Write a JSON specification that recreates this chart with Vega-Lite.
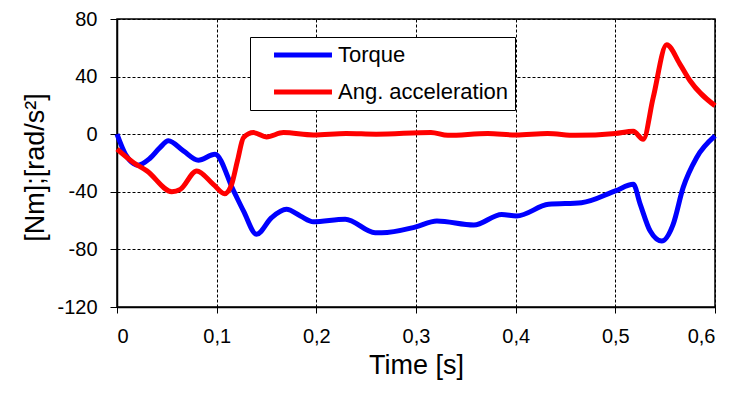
{
  "$schema": "https://vega.github.io/schema/vega-lite/v6.json",
  "width": 598,
  "height": 288,
  "autosize": "none",
  "padding": {"left": 117, "top": 19, "right": 35, "bottom": 94},
  "background": "white",
  "config": {
    "font": "Liberation Sans",
    "view": {"stroke": "black", "strokeWidth": 1.5}
  },
  "data": {
    "values": [
      {"series": "Torque", "t": 0, "v": 0},
      {"series": "Torque", "t": 0.0084, "v": -13.9},
      {"series": "Torque", "t": 0.0167, "v": -20.4},
      {"series": "Torque", "t": 0.021, "v": -21.5},
      {"series": "Torque", "t": 0.0331, "v": -16.7},
      {"series": "Torque", "t": 0.0431, "v": -9.3},
      {"series": "Torque", "t": 0.0515, "v": -4.6},
      {"series": "Torque", "t": 0.0666, "v": -11.6},
      {"series": "Torque", "t": 0.0816, "v": -18.1},
      {"series": "Torque", "t": 0.0983, "v": -13.9},
      {"series": "Torque", "t": 0.117, "v": -39.4},
      {"series": "Torque", "t": 0.127, "v": -53.4},
      {"series": "Torque", "t": 0.14, "v": -69.5},
      {"series": "Torque", "t": 0.155, "v": -58},
      {"series": "Torque", "t": 0.17, "v": -52.2},
      {"series": "Torque", "t": 0.184, "v": -56.8},
      {"series": "Torque", "t": 0.197, "v": -60.8},
      {"series": "Torque", "t": 0.229, "v": -59},
      {"series": "Torque", "t": 0.259, "v": -68.4},
      {"series": "Torque", "t": 0.2656, "v": -68.4},
      {"series": "Torque", "t": 0.299, "v": -64.5},
      {"series": "Torque", "t": 0.321, "v": -60.3},
      {"series": "Torque", "t": 0.358, "v": -63.1},
      {"series": "Torque", "t": 0.386, "v": -55.7},
      {"series": "Torque", "t": 0.401, "v": -56.8},
      {"series": "Torque", "t": 0.433, "v": -48.7},
      {"series": "Torque", "t": 0.466, "v": -47.6},
      {"series": "Torque", "t": 0.5, "v": -39.4},
      {"series": "Torque", "t": 0.518, "v": -34.8},
      {"series": "Torque", "t": 0.525, "v": -48.7},
      {"series": "Torque", "t": 0.535, "v": -67.3},
      {"series": "Torque", "t": 0.5465, "v": -74.2},
      {"series": "Torque", "t": 0.558, "v": -62.6},
      {"series": "Torque", "t": 0.568, "v": -37.1},
      {"series": "Torque", "t": 0.5815, "v": -16.3},
      {"series": "Torque", "t": 0.6, "v": -1.2},
      {"series": "Ang. acceleration", "t": 0, "v": -10.4},
      {"series": "Ang. acceleration", "t": 0.0167, "v": -19.8},
      {"series": "Ang. acceleration", "t": 0.03, "v": -25.5},
      {"series": "Ang. acceleration", "t": 0.055, "v": -39.9},
      {"series": "Ang. acceleration", "t": 0.0635, "v": -38.3},
      {"series": "Ang. acceleration", "t": 0.08, "v": -25.5},
      {"series": "Ang. acceleration", "t": 0.0966, "v": -34.8},
      {"series": "Ang. acceleration", "t": 0.108, "v": -41.3},
      {"series": "Ang. acceleration", "t": 0.115, "v": -34.8},
      {"series": "Ang. acceleration", "t": 0.121, "v": -18},
      {"series": "Ang. acceleration", "t": 0.127, "v": -2.3},
      {"series": "Ang. acceleration", "t": 0.137, "v": 1.1},
      {"series": "Ang. acceleration", "t": 0.15, "v": -1.9},
      {"series": "Ang. acceleration", "t": 0.167, "v": 1.1},
      {"series": "Ang. acceleration", "t": 0.197, "v": -0.5},
      {"series": "Ang. acceleration", "t": 0.23, "v": 0.5},
      {"series": "Ang. acceleration", "t": 0.26, "v": 0},
      {"series": "Ang. acceleration", "t": 0.315, "v": 1.2},
      {"series": "Ang. acceleration", "t": 0.332, "v": -0.8},
      {"series": "Ang. acceleration", "t": 0.372, "v": 0.5},
      {"series": "Ang. acceleration", "t": 0.4, "v": -0.5},
      {"series": "Ang. acceleration", "t": 0.432, "v": 0.5},
      {"series": "Ang. acceleration", "t": 0.46, "v": -0.8},
      {"series": "Ang. acceleration", "t": 0.5, "v": 0.5},
      {"series": "Ang. acceleration", "t": 0.518, "v": 2},
      {"series": "Ang. acceleration", "t": 0.528, "v": -3.5},
      {"series": "Ang. acceleration", "t": 0.538, "v": 25.5},
      {"series": "Ang. acceleration", "t": 0.5515, "v": 62.1},
      {"series": "Ang. acceleration", "t": 0.5648, "v": 48.7},
      {"series": "Ang. acceleration", "t": 0.575, "v": 37.1},
      {"series": "Ang. acceleration", "t": 0.6, "v": 19.7}
    ]
  },
  "mark": {"type": "line", "strokeWidth": 5, "interpolate": "monotone"},
  "encoding": {
    "x": {
      "field": "t",
      "type": "quantitative",
      "scale": {"domain": [0, 0.6], "nice": false},
      "axis": {
        "values": [0, 0.1, 0.2, 0.3, 0.4, 0.5, 0.6],
        "labelExpr": "replace(format(datum.value, '~g'), '.', ',')",
        "labelFontSize": 20,
        "labelColor": "black",
        "labelPadding": 13,
        "tickSize": 6,
        "tickColor": "black",
        "domainColor": "black",
        "domainWidth": 1.5,
        "grid": true,
        "gridColor": "black",
        "gridOpacity": 1,
        "gridDash": [3, 2],
        "gridWidth": 1,
        "title": "Time [s]",
        "titleFontSize": 27,
        "titleFontWeight": "normal",
        "titleColor": "black",
        "titleBaseline": "alphabetic",
        "titleY": 66
      }
    },
    "y": {
      "field": "v",
      "type": "quantitative",
      "scale": {"domain": [-120, 80], "nice": false},
      "axis": {
        "values": [-120, -80, -40, 0, 40, 80],
        "labelExpr": "'' + datum.value",
        "labelFontSize": 20,
        "labelColor": "black",
        "labelPadding": 13,
        "tickSize": 7,
        "tickColor": "black",
        "domainColor": "black",
        "domainWidth": 1.5,
        "grid": true,
        "gridColor": "black",
        "gridOpacity": 1,
        "gridDash": [3, 2],
        "gridWidth": 1,
        "title": "[Nm];[rad/s²]",
        "titleFontSize": 27,
        "titleFontWeight": "normal",
        "titleColor": "black",
        "titleAngle": 270,
        "titleAlign": "center",
        "titleBaseline": "alphabetic",
        "titleX": -74,
        "titleY": 148
      }
    },
    "color": {
      "field": "series",
      "type": "nominal",
      "scale": {"domain": ["Torque", "Ang. acceleration"], "range": ["#0000FF", "#FF0000"]},
      "legend": {
        "orient": "none",
        "legendX": 133,
        "legendY": 18,
        "title": null,
        "symbolType": "M-4,0H4",
        "symbolSize": 210,
        "symbolStrokeWidth": 5,
        "symbolFillColor": "transparent",
        "symbolOffset": 35,
        "labelOffset": 24,
        "labelFontSize": 22,
        "labelColor": "black",
        "labelLimit": 400,
        "rowPadding": 15,
        "padding": 7,
        "fillColor": "white",
        "strokeColor": "black"
      }
    }
  }
}
